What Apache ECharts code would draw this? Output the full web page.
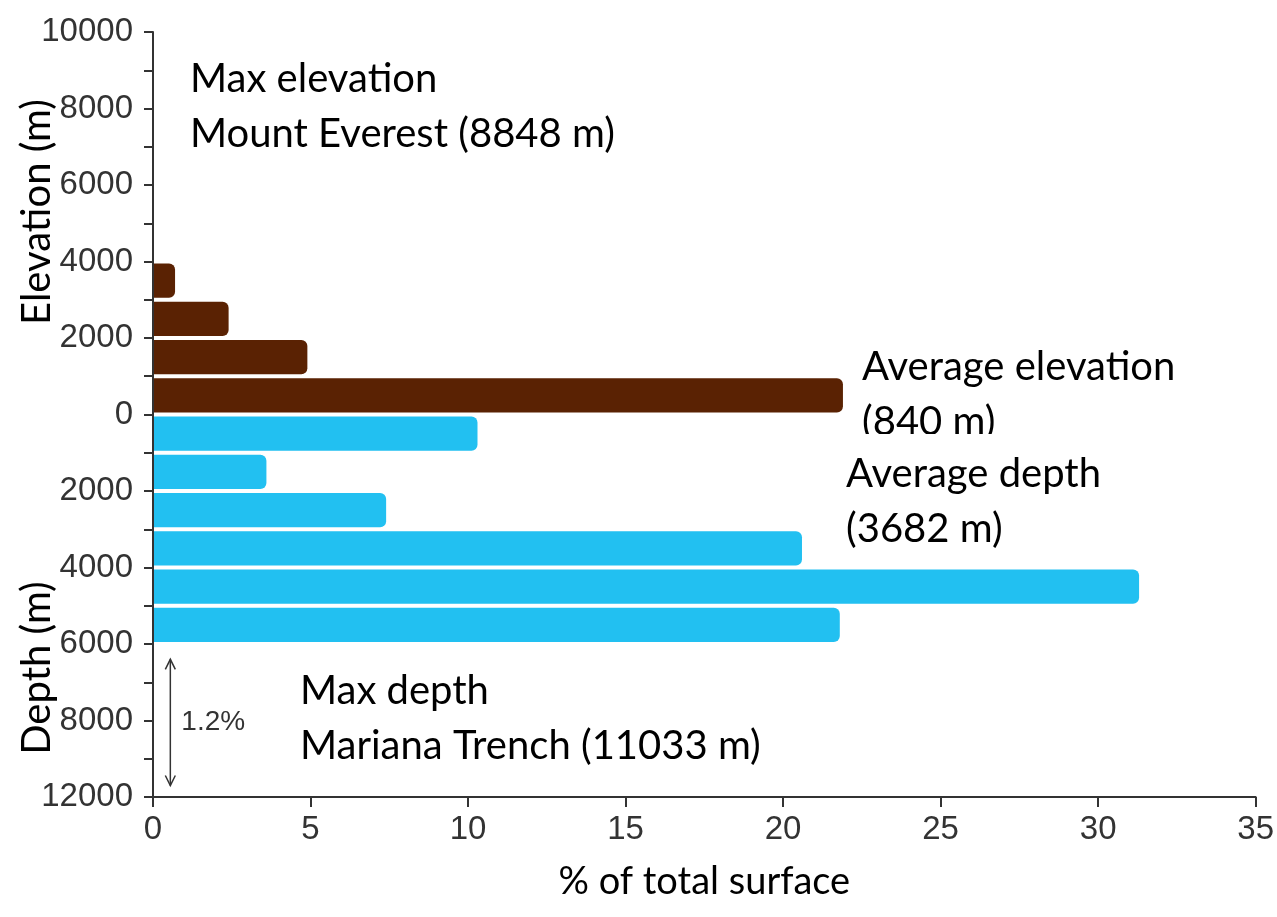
<!DOCTYPE html>
<html><head><meta charset="utf-8">
<script src="https://cdn.jsdelivr.net/npm/echarts@6/dist/echarts.min.js"></script>
<style>html,body{margin:0;padding:0;background:#fff}#c{width:1277px;height:917px}</style>
</head><body><div id="c"></div>
<script>
// Bands in metres (lower bound of each 1000 m band) and % of total surface
const elevBandStart = [0, 1000, 2000, 3000];
const elevPct = [21.9, 4.9, 2.4, 0.7];
const depthBandStart = [0, 1000, 2000, 3000, 4000, 5000];
const depthPct = [10.3, 3.6, 7.4, 20.6, 31.3, 21.8];
// y tick labels (axis units of 1000 m; negative = depth, bottom tick is compressed to 12000)
const yTickLabels = {10:'10000',8:'8000',6:'6000',4:'4000',2:'2000',0:'0','-2':'2000','-4':'4000','-6':'6000','-8':'8000','-10':'12000'};
const xTicks = [0,5,10,15,20,25,30,35];

const BROWN = '#5a2203';
const BLUE = '#22c0f1';
const tickFont = "'Liberation Sans', Arial, sans-serif";
const noteFont = "Lato, 'Open Sans', sans-serif";

const barData = [];
elevBandStart.forEach((s,i)=>barData.push({value:[s/1000,(s+1000)/1000,elevPct[i]], itemStyle:{color:BROWN}}));
depthBandStart.forEach((s,i)=>barData.push({value:[-(s+1000)/1000,-s/1000,depthPct[i]], itemStyle:{color:BLUE}}));

const chart = echarts.init(document.getElementById('c'));
chart.setOption({
  animation:false,
  backgroundColor:'#fff',
  grid:{left:153, top:32, right:15, bottom:120, containLabel:false},
  xAxis:{type:'value', min:xTicks[0], max:xTicks[xTicks.length-1], interval:5,
    axisLine:{show:true, onZero:false, lineStyle:{color:'#333', width:2}},
    axisTick:{show:true, length:10, lineStyle:{color:'#333', width:2}},
    axisLabel:{fontFamily:tickFont, fontSize:33, color:'#333', margin:16},
    splitLine:{show:false},
    name:'% of total surface', nameLocation:'middle', nameGap:66,
    nameTextStyle:{fontFamily:noteFont, fontSize:38, color:'#000'}
  },
  yAxis:{type:'value', min:-10, max:10, interval:1,
    axisLine:{show:true, onZero:false, lineStyle:{color:'#333', width:2}},
    axisTick:{show:true, length:9, inside:false, lineStyle:{color:'#333', width:2}},
    axisLabel:{fontFamily:tickFont, fontSize:33, color:'#333', margin:20,
      formatter:v=>{const k=String(Math.round(v)); return yTickLabels[k]!==undefined?yTickLabels[k]:'';}},
    splitLine:{show:false}
  },
  series:[{
    type:'custom',
    data:barData,
    encode:{x:2, y:[0,1]},
    renderItem:(params, api)=>{
      const p1 = api.coord([0, api.value(1)]);
      const p2 = api.coord([api.value(2), api.value(0)]);
      return {type:'rect',
        shape:{x:p1[0]+1, y:p1[1]+2, width:p2[0]-p1[0]-1, height:p2[1]-p1[1]-4, r:[0,6,6,0]},
        style:{fill:api.visual('color')}};
    }
  }]
});

function px(x,y){return chart.convertToPixel({gridIndex:0},[x,y]);}
const a1 = px(0.55,-6.4), a2 = px(0.55,-9.7);
const txt = (x,y,t)=>({type:'text', x:x, y:y, style:{text:t, fontFamily:noteFont, fontSize:40, fill:'#000', lineHeight:55}});
chart.setOption({graphic:[
  txt(190,52,'Max elevation\nMount Everest (8848 m)'),
  txt(862,340,'Average elevation\n(840 m)'),
  {type:'rect', shape:{x:840,y:434,width:330,height:14}, style:{fill:'#fff'}},
  txt(846,447,'Average depth\n(3682 m)'),
  txt(300,664,'Max depth\nMariana Trench (11033 m)'),
  {type:'text', x:37, y:212, rotation:Math.PI/2, style:{text:'Elevation (m)', fontFamily:noteFont, fontSize:40, fill:'#000', align:'center', verticalAlign:'middle'}},
  {type:'text', x:37, y:668, rotation:Math.PI/2, style:{text:'Depth (m)', fontFamily:noteFont, fontSize:40, fill:'#000', align:'center', verticalAlign:'middle'}},
  {type:'line', shape:{x1:a1[0],y1:a1[1],x2:a2[0],y2:a2[1]}, style:{stroke:'#333', lineWidth:1.5}},
  {type:'polyline', shape:{points:[[a1[0]-5,a1[1]+10],[a1[0],a1[1]],[a1[0]+5,a1[1]+10]]}, style:{stroke:'#333', lineWidth:1.5, fill:null}},
  {type:'polyline', shape:{points:[[a2[0]-5,a2[1]-10],[a2[0],a2[1]],[a2[0]+5,a2[1]-10]]}, style:{stroke:'#333', lineWidth:1.5, fill:null}},
  {type:'text', x:a1[0]+11, y:(a1[1]+a2[1])/2, style:{text:'1.2%', fontFamily:tickFont, fontSize:28, fill:'#333', verticalAlign:'middle'}}
]});
</script></body></html>
